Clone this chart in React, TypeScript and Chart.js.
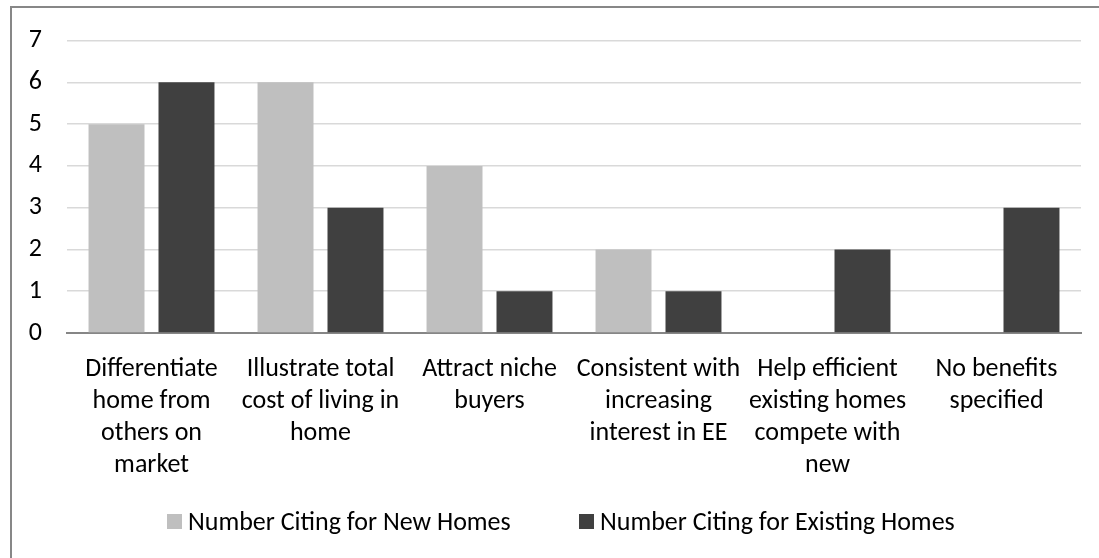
import React, { useEffect, useRef } from "react";
import { Chart, registerables } from "chart.js";

Chart.register(...registerables);

const categories: string[][] = [
  ["Differentiate", "home from", "others on", "market"],
  ["Illustrate total", "cost of living in", "home"],
  ["Attract niche", "buyers"],
  ["Consistent with", "increasing", "interest in EE"],
  ["Help efficient", "existing homes", "compete with", "new"],
  ["No benefits", "specified"],
];
const newHomes = [5, 6, 4, 2, 0, 0];
const existingHomes = [6, 3, 1, 1, 2, 3];
const seriesNames = ["Number Citing for New Homes", "Number Citing for Existing Homes"];
const seriesColors = ["#BFBFBF", "#404040"];
const yMin = 0;
const yMax = 7;
const yStep = 1;

const FONT = "Carlito, Calibri, Lato, sans-serif";
const FS = 26;

export default function App() {
  const ref = useRef<HTMLCanvasElement | null>(null);
  useEffect(() => {
    if (!ref.current) return;
    const chart = new Chart(ref.current, {
      type: "bar",
      data: {
        labels: categories,
        datasets: [
          {
            label: seriesNames[0],
            data: newHomes,
            backgroundColor: seriesColors[0],
            categoryPercentage: 0.828,
            barPercentage: 0.8,
          },
          {
            label: seriesNames[1],
            data: existingHomes,
            backgroundColor: seriesColors[1],
            categoryPercentage: 0.828,
            barPercentage: 0.8,
          },
        ],
      },
      options: {
        responsive: false,
        animation: false,
        layout: { padding: { top: 37, left: 20, right: 18, bottom: 0 } },
        plugins: {
          legend: { display: false },
          tooltip: { enabled: false },
        },
        scales: {
          x: {
            grid: { display: false },
            border: { display: true, color: "#868686", width: 2 },
            ticks: {
              color: "#000",
              font: { family: FONT, size: FS, lineHeight: 32 / FS },
              padding: 12,
              maxRotation: 0,
              minRotation: 0,
              autoSkip: false,
            },
            afterFit: (s: any) => {
              s.height = 225;
            },
          },
          y: {
            min: yMin,
            max: yMax,
            grid: { color: "#D9D9D9", lineWidth: 1.5, drawTicks: false },
            border: { display: false },
            ticks: {
              stepSize: yStep,
              color: "#000",
              font: { family: FONT, size: FS },
              padding: 25,
            },
            afterFit: (s: any) => {
              s.width = 47;
            },
          },
        },
      },
    });
    return () => chart.destroy();
  }, []);

  const textStyle: React.CSSProperties = {
    fontFamily: FONT,
    fontSize: FS,
    lineHeight: "32px",
    color: "#000",
    whiteSpace: "nowrap",
  };
  const boxStyle = (c: string): React.CSSProperties => ({
    width: 15,
    height: 15,
    background: c,
    marginRight: 6,
    flex: "none",
  });

  return (
    <div
      style={{
        position: "fixed",
        left: 0,
        top: 0,
        width: 1099,
        height: 558,
        overflow: "hidden",
        background: "#fff",
      }}
    >
      <div
        style={{
          position: "absolute",
          left: 10,
          top: 6,
          width: 2000,
          height: 2000,
          borderLeft: "2px solid #878787",
          borderTop: "2px solid #878787",
        }}
      />
      <canvas
        ref={ref}
        width={1099}
        height={558}
        style={{ position: "absolute", left: 0, top: 0, width: 1099, height: 558 }}
      />
      {seriesNames.map((name, i) => (
        <div
          key={name}
          style={{
            position: "absolute",
            left: i === 0 ? 167 : 579,
            top: 505,
            display: "flex",
            alignItems: "center",
            height: 32,
          }}
        >
          <div style={boxStyle(seriesColors[i])} />
          <span style={textStyle}>{name}</span>
        </div>
      ))}
    </div>
  );
}
